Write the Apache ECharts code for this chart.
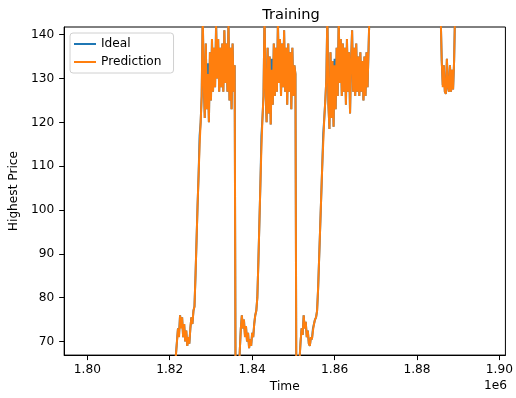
<!DOCTYPE html>
<html>
<head>
<meta charset="utf-8">
<script src="https://cdn.jsdelivr.net/npm/echarts@6/dist/echarts.min.js"></script>
<style>html,body{margin:0;padding:0;background:#fff}#c{width:516px;height:398px}</style>
</head>
<body>
<div id="c"></div>
<script>
// Time stamps (x values)
const times = [
1799250,1805000,1810000,1815000,1819000,1820500,1821000,
1821250,1821500,1821750,1822000,1822250,1822500,1822750,1823000,1823250,1823500,
1823750,1824000,1824250,1824500,1824750,1825000,1825250,1825500,1825750,1826000,
1826250,1826500,1826750,1827000,1827250,1827500,1827750,1828000,1828250,1828500,
1828750,1829000,1829250,1829500,1829750,1830000,1830250,1830500,1830750,1831000,
1831250,1831500,1831750,1832000,1832250,1832500,1832750,1833000,1833250,1833500,
1833750,1834000,1834250,1834500,1834750,1835000,1835250,1835500,1835750,
1836000,1836250,1836500,1836750,1837000,1837250,1837500,1837750,1838000,1838250,
1838500,1838750,1839000,1839250,1839500,1839750,1840000,1840250,1840500,1840750,
1841000,1841250,1841500,1841750,1842000,1842250,1842500,1842750,1843000,1843250,
1843500,1843750,1844000,1844250,1844500,1844750,1845000,1845250,1845500,1845750,
1846000,1846250,1846500,1846750,1847000,1847250,1847500,1847750,1848000,1848250,
1848500,1848750,1849000,1849250,1849500,1849750,1850000,1850250,1850500,
1850750,1851000,1851250,1851500,1851750,1852000,1852250,1852500,1852750,1853000,
1853250,1853500,1853750,1854000,1854250,1854500,1854750,1855000,1855250,1855500,
1855750,1856000,1856250,1856500,1856750,1857000,1857250,1857500,1857750,1858000,
1858250,1858500,1858750,1859000,1859250,1859500,1859750,1860000,1860250,1860500,
1860750,1861000,1861250,1861500,1861750,1862000,1862250,1862500,1862750,1863000,
1863250,1863500,1863750,1864000,1864250,1864500,1864750,1865000,1865250,1865500,
1865750,1866000,1866250,1866500,1866750,1867000,1867250,1867500,1867750,1868000,
1868250,1868500,
1872000,1876000,1880000,1884000,1885500,
1885750,1886000,1886250,1886500,1886750,1887000,1887250,1887500,1887750,1888000,
1888250,1888500,1888750,1889000,1889250,
1891000,1894000,1896500
];

// Ideal (actual) highest price
const ideal = [
45,48,52,50,55,58,60,
63,67,70,73,71.5,76,73.5,75.5,71,74,
70,72.5,69,71,69.5,73,75.5,74,77,78,
85,93,101,108,117,120,126,145,129,121,
138,123,133.5,120,136,125,139,127,137,128,
143,130,139,127,137,128,138,127,141,129,
138,127,143,125,137,123,138,127,133,
52,48,55,62,68,73,76,73,75,71.5,
73.5,70,72,68.5,70.5,69,72,71,74,76,
77,80,88,97,106,117,121,126,145,128,
120,137,122,135,119.5,134.5,124,138,126,137,
127,143,129,139,126,138,128,141,127,137,
124,138,127,136,123,137,126,133,131,
50,48,58,66,70,73,71.5,76,73,74.5,
71,72.5,69.5,69,71,70.5,73,74,75,75.5,
77,82,89,96,103,110,117.5,121,125,130,
145,124,118.5,136,121,134,119,134.5,123,137,
126,144,129,139,126,138,127,137,124,139,
127,136,122,134,141,127,137,126,138,127,
135,126,136,127,134,125,135,126,136,128,
137,146,
150,155,152,149,147,
144,134,128.5,133,127,126.5,134.5,128,127,133,
127,132,127.5,134,146,
150,148,152
];

// Model prediction
const prediction = [
45,48,52,50,55,58,60,
63,67,70,73,71,76,73,75.5,71,74,
70,72.5,69,71,69.5,73,75.5,74,77,78,
85,93,101,108,115,120,126,145,129,121,
138,123,131,120,136,125,139,127,137,128,
142,130,139,127,137,128,138,127,141,129,
138,127,143,125,137,123,138,127,133,
52,48,55,62,68,73,76,73,75,71,
73.5,70,72,68.5,70.5,69,72,71,74,76,
77,80,88,97,106,114.5,121,126,145,128,
120,137,122,135,119.5,132,124,138,126,137,
127,143,129,139,126,138,128,141,127,137,
124,138,127,136,123,137,126,133,131,
50,48,58,66,70,73,71.5,76,73,74.5,
71,72.5,69.5,69,71,70.5,72.5,74,75,75.5,
77,82,89,96,103,110,115.5,121,125,130,
145,124,118.5,136,121,134,119,133,123,137,
126,144,129,139,126,138,127,137,124,139,
127,136,122,134,141,127,137,126,138,127,
135,126,136,127,134,125,135,126,136,128,
137,146,
150,155,152,149,147,
144,134,128,133,127,126.5,134.5,128,127,133,
127,132,127.5,134,146,
150,148,152
];

const xTicks = [1800000,1820000,1840000,1860000,1880000,1900000];
const yTicks = [70,80,90,100,110,120,130,140];

const FONT = 'DejaVu Sans';
const FS = 12.2;
const chart = echarts.init(document.getElementById('c'), null, {renderer:'canvas'});
chart.setOption({
  animation:false,
  backgroundColor:'#fff',
  title:{text:'Training', left:286, top:3, textAlign:'center',
    textStyle:{fontFamily:FONT, fontSize:14.6, fontWeight:'normal', color:'#000'}},
  legend:{
    orient:'vertical', left:70, top:33,
    data:['Ideal','Prediction'],
    icon:'rect', itemWidth:22, itemHeight:2, itemGap:6,
    padding:[5,12,5,4],
    borderColor:'#d0d0d0', borderWidth:1, borderRadius:3,
    backgroundColor:'rgba(255,255,255,0.8)',
    textStyle:{fontFamily:FONT, fontSize:FS, color:'#000'}
  },
  grid:{left:64, right:8, top:27, bottom:41, show:true, borderColor:'#000', borderWidth:1},
  xAxis:{
    type:'value', min:1794380, max:1901450,
    name:'Time', nameLocation:'middle', nameGap:25,
    nameTextStyle:{fontFamily:FONT, fontSize:FS, color:'#000'},
    splitLine:{show:false},
    axisLine:{lineStyle:{color:'#000', width:1}},
    axisTick:{customValues:xTicks, length:5, lineStyle:{color:'#000'}},
    axisLabel:{customValues:xTicks, margin:9, fontFamily:FONT, fontSize:FS, color:'#000',
      formatter:v=>(v/1e6).toFixed(2)}
  },
  yAxis:{
    type:'value', min:66.9, max:141.75,
    name:'Highest Price', nameLocation:'middle', nameGap:39, nameRotate:90,
    nameTextStyle:{fontFamily:FONT, fontSize:FS, color:'#000'},
    splitLine:{show:false},
    axisLine:{show:true, lineStyle:{color:'#000', width:1}},
    axisTick:{show:true, customValues:yTicks, length:5, lineStyle:{color:'#000'}},
    axisLabel:{customValues:yTicks, margin:10, fontFamily:FONT, fontSize:FS, color:'#000'}
  },
  graphic:[{type:'text', right:9, top:380,
    style:{text:'1e6', fontFamily:FONT, fontSize:FS, fill:'#000'}}],
  series:[
    {name:'Ideal', type:'line', showSymbol:false, symbol:'none', color:'#1f77b4',
     lineStyle:{width:2, color:'#1f77b4'}, data:times.map((t,i)=>[t, ideal[i]])},
    {name:'Prediction', type:'line', showSymbol:false, symbol:'none', color:'#ff7f0e',
     lineStyle:{width:2, color:'#ff7f0e'}, data:times.map((t,i)=>[t, prediction[i]])}
  ]
});
</script>
</body>
</html>
